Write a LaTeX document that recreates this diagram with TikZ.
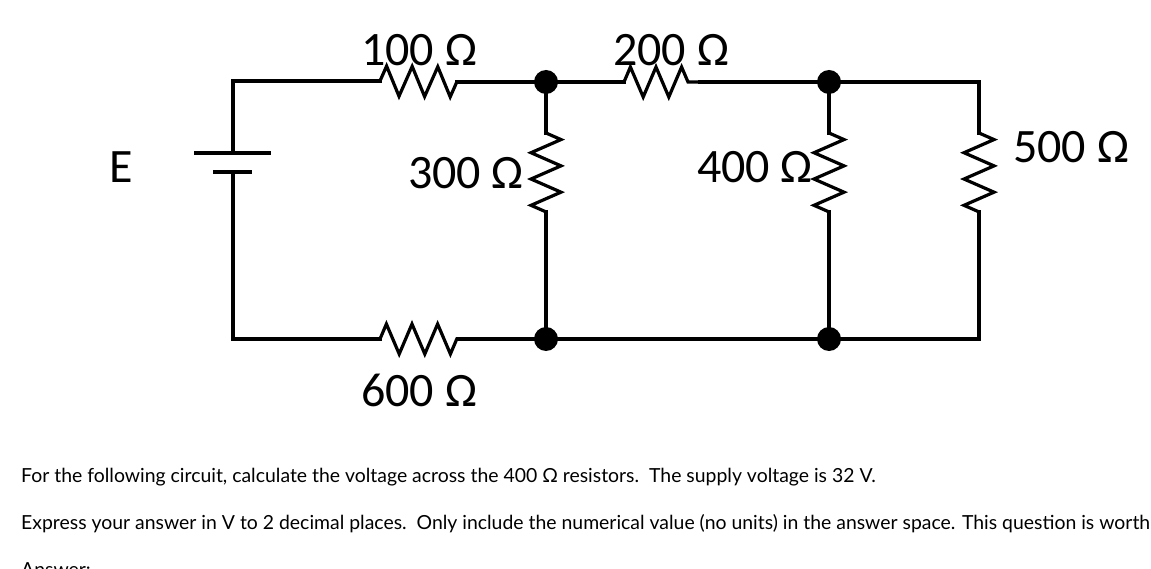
\documentclass[tikz,border=0pt]{standalone}
\usepackage{fontspec}
\setmainfont{Carlito}
\newfontfamily\qtextfont{Lato}
\usetikzlibrary{decorations.pathmorphing}
\begin{document}
\begin{tikzpicture}[x=1pt,y=-1pt,
  wire/.style={line width=3.2pt,line cap=rect},
  hres/.style={wire,line cap=butt,line join=miter,decorate,decoration={zigzag,segment length=25.6pt,amplitude=15pt}},
  vres/.style={wire,line cap=butt,line join=miter,decorate,decoration={zigzag,segment length=26.3pt,amplitude=15pt}},
  junction/.style={circle,fill=black,inner sep=0pt,minimum width=22pt,minimum height=24pt},
  lbl/.style={font=\fontsize{48}{52}\selectfont,inner sep=0pt},
  txt/.style={font=\qtextfont\fontsize{19.4}{23}\selectfont,inner sep=0pt,anchor=base west},
  plate/.style={line width=3.2pt}]
\useasboundingbox (0,0) rectangle (1151,569);
\clip (0,0) rectangle (1151,569);
% corners and resistor ends
\coordinate (tl) at (233,81);
\coordinate (bl) at (233,339);
\coordinate (tr) at (979,82);
\coordinate (br) at (979,339);
\coordinate (r1a) at (380,81);
\coordinate (r1b) at (457,82);
\coordinate (r2a) at (624,82);
\coordinate (r2b) at (700,82);
\coordinate (r6a) at (380,339);
\coordinate (r6b) at (458,339);
\node[junction] (j1) at (546,82) {};
\node[junction] (j2) at (829,82) {};
\node[junction] (j3) at (546,339) {};
\node[junction] (j4) at (829,339) {};
\coordinate (r3a) at (546,133);
\coordinate (r3b) at (546,212);
\coordinate (r4a) at (829,133);
\coordinate (r4b) at (829,212);
\coordinate (r5a) at (979,133);
\coordinate (r5b) at (979,212);
% battery
\coordinate (bp1) at (233,153);
\coordinate (bp2) at (233,172);
\coordinate (L1) at (194,153);
\coordinate (L2) at (271,153);
\coordinate (S1) at (213,172);
\coordinate (S2) at (252,172);
\draw[plate] (L1) -- (L2);
\draw[plate] (S1) -- (S2);
% wires
\draw[wire] (bp1) -- (tl) -- (r1a);
\draw[wire] (r1b) -- (j1.center) -- (r2a);
\draw[wire] (r2b) -- (j2.center) -- (tr) -- (r5a);
\draw[wire] (r5b) -- (br) -- (j4.center) -- (j3.center) -- (r6b);
\draw[wire] (r6a) -- (bl) -- (bp2);
\draw[wire] (j1.center) -- (r3a);
\draw[wire] (r3b) -- (j3.center);
\draw[wire] (j2.center) -- (r4a);
\draw[wire] (r4b) -- (j4.center);
% resistors
\draw[hres] (r1a) -- (r1b);
\draw[hres] (r2a) -- (r2b);
\draw[hres] (r6a) -- (r6b);
\draw[vres] (r3a) -- (r3b);
\draw[vres] (r4a) -- (r4b);
\draw[vres] (r5a) -- (r5b);
% labels
\node[lbl,anchor=base] (l1) at (419,66) {100 Ω};
\node[lbl,anchor=base] (l2) at (671,66) {200 Ω};
\node[lbl,anchor=base east] (l3) at (524,189) {300 Ω};
\node[lbl,anchor=base east] (l4) at (813,183) {400 Ω};
\node[lbl,anchor=base west] (l5) at (1013,163) {500 Ω};
\node[lbl,anchor=base] (l6) at (419,406) {600 Ω};
\node[lbl,anchor=base] (lE) at (121,183) {E};
% text
\node[txt] (t1) at (21,482) {For the following circuit, calculate the voltage across the 400 Ω resistors.\ \ The supply voltage is 32 V.};
\node[txt] (t2) at (21,529) {Express your answer in V to 2 decimal places.\ \ Only include the numerical value (no units) in the answer space. This question is worth};
\node[txt] (t3) at (21,576) {Answer:};
\end{tikzpicture}
\end{document}
